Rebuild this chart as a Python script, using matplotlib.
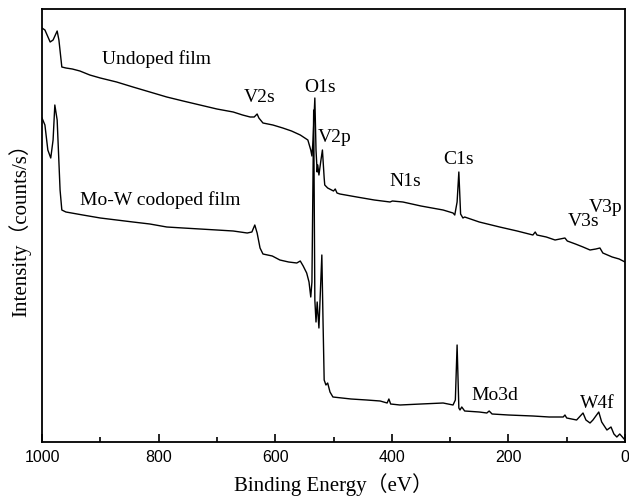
import numpy as np
import matplotlib
matplotlib.use("Agg")
import matplotlib.pyplot as plt
from matplotlib.ticker import MultipleLocator

# binding energy (eV) and intensity (a.u.)
undoped_ev = [1000, 995, 986, 981, 974, 971, 966, 959, 948, 935, 918, 900, 872, 844, 815, 786,
              758, 729, 700, 672, 656, 643, 636, 631, 628, 621, 604, 587, 572, 557, 544, 539,
              537, 535, 532, 530, 528, 527, 525, 522, 519, 516, 515, 510, 500, 497, 494, 489,
              460, 430, 403, 399, 381, 350, 312, 295, 292, 288, 285, 282, 278, 275, 250, 215,
              185, 158, 154, 151, 135, 120, 103, 99, 85, 72, 60, 50, 43, 38, 30, 22, 10, 0]
undoped_i = [414, 412, 400, 402, 411, 402, 375, 374, 373, 371, 367, 364, 360, 355, 350, 345,
             341, 337, 333, 330, 327, 325, 325, 328, 324, 319, 317, 314, 311, 307, 302, 292,
             286, 302, 344, 292, 270, 277, 267, 280, 292, 264, 257, 254, 251, 253, 249, 248,
             245, 242, 240, 241, 240, 236, 232, 229, 227, 240, 270, 228, 224, 225, 220, 215,
             211, 207, 210, 207, 205, 202, 204, 201, 198, 195, 192, 193, 194, 189, 187, 185, 183, 180]

codoped_ev = [1000, 995, 990, 985, 981, 978, 974, 969, 966, 959, 930, 900, 872, 844, 815, 786,
              758, 729, 700, 672, 648, 640, 635, 631, 626, 621, 605, 592, 577, 563, 557, 552,
              546, 542, 539, 537, 534, 532, 530, 528, 525, 520, 518, 516, 513, 510, 506, 501,
              470, 443, 420, 408, 405, 402, 386, 350, 312, 295, 291, 288, 285, 283, 280, 275,
              250, 237, 233, 228, 200, 158, 130, 106, 103, 100, 83, 72, 67, 60, 55, 45, 40,
              31, 24, 19, 14, 9, 0]
codoped_i = [324, 317, 292, 284, 302, 337, 322, 252, 232, 230, 227, 224, 222, 220, 218, 215,
             214, 213, 212, 211, 209, 210, 217, 209, 194, 188, 186, 182, 180, 179, 181, 176,
             169, 160, 145, 160, 332, 142, 120, 140, 114, 187, 122, 62, 57, 59, 50, 45,
             43, 42, 41, 39, 43, 38, 37, 38, 39, 37, 42, 97, 34, 32, 35, 31,
             30, 29, 31, 28, 27, 26, 25, 25, 27, 24, 22, 29, 22, 19, 22, 30, 20,
             12, 15, 8, 5, 8, 2]

# peak labels: (text, eV, intensity)
labels = [("Undoped film", 803, 383), ("V2s", 626, 345), ("O1s", 523, 354),
          ("V2p", 498, 305), ("N1s", 377, 260), ("C1s", 285, 282),
          ("V3p", 33, 234), ("V3s", 71, 220), ("Mo-W codoped film", 797, 242),
          ("Mo3d", 223, 47), ("W4f", 48, 39)]

serif = ["Liberation Serif", "Noto Sans CJK SC"]

fig = plt.figure(figsize=(6.29, 4.98), dpi=100)
ax = fig.add_axes([42/629, 1-442/498, 583/629, 433/498])

ax.plot(undoped_ev, undoped_i, color="black", lw=1.0)
ax.plot(codoped_ev, codoped_i, color="black", lw=1.0)

for txt, x, y in labels:
    ax.text(x, y, txt, ha="center", va="center", fontsize=14, family=serif)

ax.set_xlim(1000, 0)
ax.set_ylim(0, 433)
ax.xaxis.set_major_locator(MultipleLocator(200))
ax.xaxis.set_minor_locator(MultipleLocator(100))
ax.tick_params(axis="x", which="major", direction="in", length=6, width=1.2,
               top=False, labelsize=11.5, pad=6)
ax.tick_params(axis="x", which="minor", direction="in", length=3.5, width=1.2, top=False)
for lab in ax.get_xticklabels():
    lab.set_family("Liberation Sans")
ax.set_yticks([])
for s in ax.spines.values():
    s.set_linewidth(1.3)

ax.set_xlabel("Binding Energy（eV）", fontsize=15, family=serif, labelpad=6)
ax.set_ylabel("Intensity（counts/s）", fontsize=15, family=serif, labelpad=8)

fig.savefig("out.png", dpi=100)
